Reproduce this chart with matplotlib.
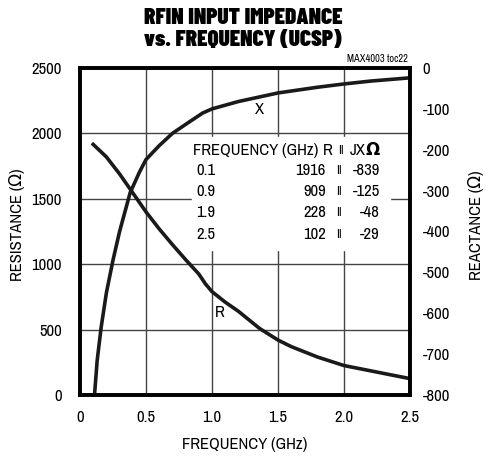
import matplotlib.pyplot as plt
import numpy as np

# resistance curve (left axis)
freq_r = [0.1, 0.2, 0.3, 0.4, 0.5, 0.6, 0.7, 0.8, 0.9, 0.95, 1.0, 1.1, 1.2,
          1.36, 1.5, 1.6, 1.8, 2.0, 2.2, 2.5]
res = [1916, 1820, 1690, 1545, 1400, 1270, 1150, 1035, 925, 850, 790, 710,
       640, 509, 420, 370, 290, 225, 185, 125]

# reactance curve (right axis)
freq_x = [0.11, 0.13, 0.16, 0.2, 0.25, 0.3, 0.38, 0.45, 0.5, 0.6, 0.7, 0.8,
          0.93, 1.0, 1.2, 1.5, 1.8, 2.0, 2.2, 2.5]
reac = [-800, -716, -635, -550, -470, -400, -305, -255, -224, -190, -160,
        -138, -110, -100, -82, -61, -47, -39, -32, -24]

# table inside the plot
tab_freq = ['0.1', '0.9', '1.9', '2.5']
tab_r = ['1916', '909', '228', '102']
tab_x = ['-839', '-125', '-48', '-29']

plt.rcParams['font.family'] = ['Archivo Narrow', 'DejaVu Sans']
plt.rcParams['axes.unicode_minus'] = False
fs = 12

fig = plt.figure(figsize=(4.86, 4.58), dpi=100)
ax = fig.add_axes([0.1646, 0.1376, 0.679, 0.7139])

ax.plot(freq_r, res, color='#1a1a1a', lw=2.6)
ax.set_xlim(0, 2.5)
ax.set_ylim(0, 2500)
ax.set_xticks([0, 0.5, 1.0, 1.5, 2.0, 2.5])
ax.set_xticklabels(['0', '0.5', '1.0', '1.5', '2.0', '2.5'])
ax.set_yticks([0, 500, 1000, 1500, 2000, 2500])
ax.grid(True, color='#444444', lw=1.0)
ax.tick_params(axis='y', length=0, labelsize=fs, pad=13)
ax.tick_params(axis='x', length=0, labelsize=fs, pad=11)
for s in ax.spines.values():
    s.set_linewidth(2.6)
ax.set_xlabel('FREQUENCY (GHz)', fontsize=fs)
ax.set_ylabel('RESISTANCE (Ω)', fontsize=fs)
ax.xaxis.set_label_coords(0.5, -0.128)
ax.yaxis.set_label_coords(-0.167, 0.52)

ax2 = ax.twinx()
ax2.plot(freq_x, reac, color='#1a1a1a', lw=2.6)
ax2.set_ylim(-800, 0)
ax2.set_yticks(np.arange(-800, 1, 100))
ax2.tick_params(length=0, labelsize=fs, pad=9)
ax2.set_ylabel('REACTANCE (Ω)', fontsize=fs)
ax2.yaxis.set_label_coords(1.176, 0.52)
for s in ax2.spines.values():
    s.set_linewidth(2.6)

# white box behind the table
ax2.fill_between([0.85, 2.35], [-445, -445], [-169, -169], color='white', zorder=3)

tr = ax2.transAxes
ax2.text(0.342, 0.749, 'FREQUENCY (GHz)', transform=tr, fontsize=fs, va='center', zorder=5)
ax2.text(0.752, 0.749, 'R', transform=tr, fontsize=fs, va='center', ha='center', zorder=5)
ax2.text(0.79, 0.749, 'II', transform=tr, fontsize=fs * 0.75, va='center', ha='center', zorder=5)
ax2.text(0.818, 0.749, 'JX', transform=tr, fontsize=fs, va='center', zorder=5)
ax2.text(0.864, 0.749, 'Ω', transform=tr, fontsize=fs, va='center', weight='bold',
         family=['DejaVu Sans'], zorder=5)
row_y = [0.687, 0.622, 0.558, 0.492]
for i in range(4):
    ax2.text(0.352, row_y[i], tab_freq[i], transform=tr, fontsize=fs, va='center', zorder=5)
    ax2.text(0.745, row_y[i], tab_r[i], transform=tr, fontsize=fs, va='center', ha='right', zorder=5)
    ax2.text(0.785, row_y[i], 'II', transform=tr, fontsize=fs * 0.75, va='center', ha='center', zorder=5)
    ax2.text(0.909, row_y[i], tab_x[i], transform=tr, fontsize=fs, va='center', ha='right', zorder=5)

# curve labels
ax2.text(0.545, 0.872, 'X', transform=tr, fontsize=fs, ha='center', va='center')
ax2.text(0.424, 0.251, 'R', transform=tr, fontsize=fs, ha='center', va='center')
ax2.text(0.994, 1.012, 'MAX4003 toc22', transform=tr, fontsize=7.5, ha='right', va='bottom')

fig.text(0.5, 0.961, 'RFIN INPUT IMPEDANCE', fontsize=16.8, ha='center', va='center',
         family=['Barlow Condensed', 'DejaVu Sans'], weight=900)
fig.text(0.5, 0.913, 'vs. FREQUENCY (UCSP)', fontsize=16.8, ha='center', va='center',
         family=['Barlow Condensed', 'DejaVu Sans'], weight=900)

fig.savefig('out.png', dpi=100)
